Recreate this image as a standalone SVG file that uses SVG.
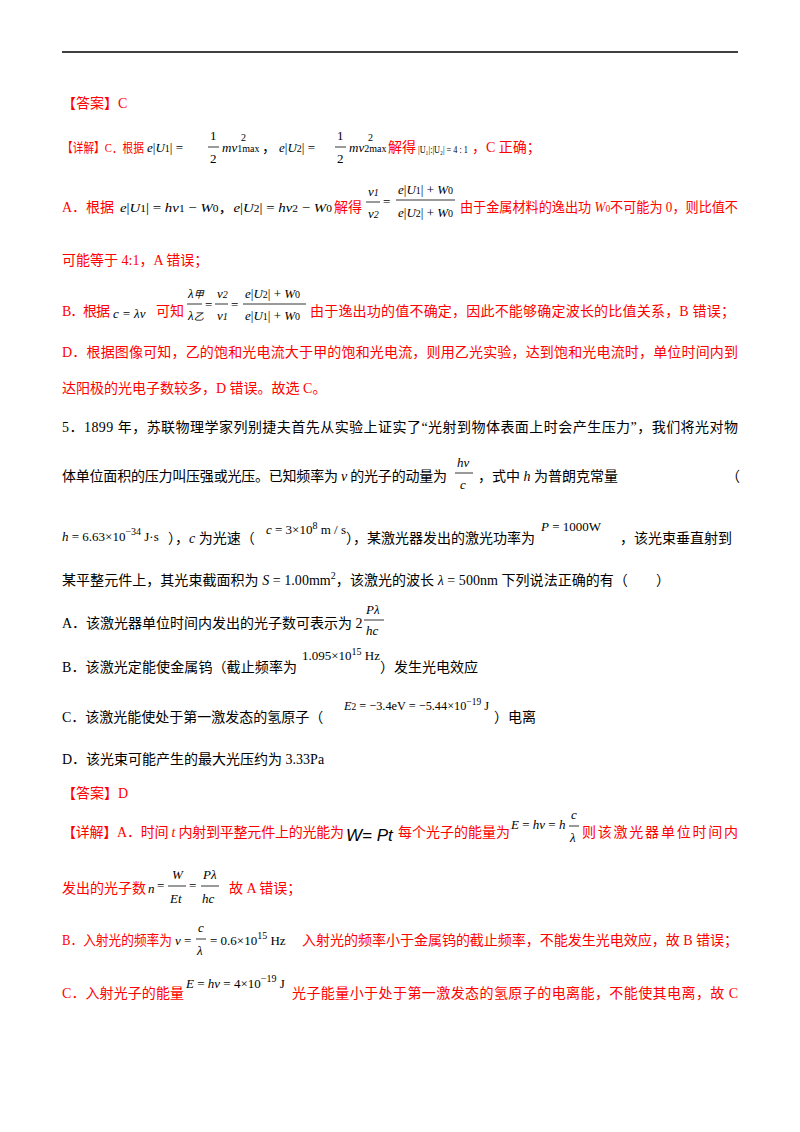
<svg xmlns="http://www.w3.org/2000/svg" width="800" height="1132" viewBox="0 0 800 1132">
<style>
text{font-family:"Liberation Serif","Noto Sans CJK SC",serif;font-size:14px;fill:#000}
.r{fill:#f00}
.m{font-style:italic}
.s{font-size:10px}
.f{font-size:13px}
line.fr{stroke:#000;stroke-width:0.8}
line.rule{stroke:#000;stroke-width:1.5}
</style>
<rect width="800" height="1132" fill="#fff"/>
<line class="rule" x1="62" y1="52" x2="738" y2="52"/>
<text class="r" x="62" y="108">【答案】C</text>
<text class="r" x="62" y="152" style="font-size:13px" textLength="82" lengthAdjust="spacingAndGlyphs">【详解】C．根据</text>
<text x="147" y="152" class="f"><tspan class="m">e</tspan>|<tspan class="m">U</tspan><tspan class="s">1</tspan>| =</text>
<text x="210" y="140" class="f">1</text><line class="fr" x1="208" y1="147" x2="219" y2="147"/><text x="210" y="163" class="f">2</text>
<text x="222" y="152" class="f"><tspan class="m">mv</tspan><tspan class="s">1max</tspan></text><text x="241" y="141" class="s">2</text>
<text x="262" y="152">，</text>
<text x="279" y="152" class="f"><tspan class="m">e</tspan>|<tspan class="m">U</tspan><tspan class="s">2</tspan>| =</text>
<text x="337" y="140" class="f">1</text><line class="fr" x1="335" y1="147" x2="346" y2="147"/><text x="337" y="163" class="f">2</text>
<text x="349" y="152" class="f"><tspan class="m">mv</tspan><tspan class="s">2max</tspan></text><text x="368" y="141" class="s">2</text>
<text class="r" x="388" y="152">解得</text>
<text x="418" y="153" class="s" textLength="50" lengthAdjust="spacingAndGlyphs">|U₁|:|U₂| = 4 : 1</text>
<text class="r" x="472" y="152">，C 正确；</text>

<text class="r" x="62" y="212">A．根据</text>
<text x="120" y="212" class="f" textLength="212" lengthAdjust="spacingAndGlyphs"><tspan class="m">e</tspan>|<tspan class="m">U</tspan><tspan class="s">1</tspan>| = <tspan class="m">hν</tspan><tspan class="s">1</tspan> − <tspan class="m">W</tspan><tspan class="s">0</tspan>，<tspan class="m">e</tspan>|<tspan class="m">U</tspan><tspan class="s">2</tspan>| = <tspan class="m">hν</tspan><tspan class="s">2</tspan> − <tspan class="m">W</tspan><tspan class="s">0</tspan></text>
<text class="r" x="334" y="212">解得</text>
<text x="368" y="196" class="f m">ν<tspan class="s">1</tspan></text><line class="fr" x1="366" y1="202" x2="380" y2="202"/><text x="368" y="218" class="f m">ν<tspan class="s">2</tspan></text>
<text x="383" y="206" class="f">=</text>
<text x="398" y="194" class="f"><tspan class="m">e</tspan>|<tspan class="m">U</tspan><tspan class="s">1</tspan>| + <tspan class="m">W</tspan><tspan class="s">0</tspan></text>
<line class="fr" x1="396" y1="200" x2="455" y2="200"/>
<text x="398" y="217" class="f"><tspan class="m">e</tspan>|<tspan class="m">U</tspan><tspan class="s">2</tspan>| + <tspan class="m">W</tspan><tspan class="s">0</tspan></text>
<text class="r" x="460" y="212" textLength="278" lengthAdjust="spacingAndGlyphs">由于金属材料的逸出功 <tspan class="m">W</tspan><tspan class="s">0</tspan>不可能为 0，则比值不</text>
<text class="r" x="62" y="265">可能等于 4:1，A 错误；</text>

<text class="r" x="62" y="316" textLength="48">B．根据</text>
<text x="113" y="318" class="f m">c = λν</text>
<text class="r" x="156" y="316">可知</text>
<text x="188" y="298" class="f m">λ<tspan class="s">甲</tspan></text><line class="fr" x1="187" y1="304" x2="202" y2="304"/><text x="188" y="320" class="f m">λ<tspan class="s">乙</tspan></text>
<text x="205" y="309" class="f">=</text>
<text x="217" y="298" class="f m">ν<tspan class="s">2</tspan></text><line class="fr" x1="215" y1="304" x2="228" y2="304"/><text x="217" y="320" class="f m">ν<tspan class="s">1</tspan></text>
<text x="231" y="309" class="f">=</text>
<text x="245" y="298" class="f"><tspan class="m">e</tspan>|<tspan class="m">U</tspan><tspan class="s">2</tspan>| + <tspan class="m">W</tspan><tspan class="s">0</tspan></text>
<line class="fr" x1="243" y1="304" x2="306" y2="304"/>
<text x="245" y="320" class="f"><tspan class="m">e</tspan>|<tspan class="m">U</tspan><tspan class="s">1</tspan>| + <tspan class="m">W</tspan><tspan class="s">0</tspan></text>
<text class="r" x="310" y="316" textLength="425">由于逸出功的值不确定，因此不能够确定波长的比值关系，B 错误；</text>

<text class="r" x="62" y="357" textLength="676">D．根据图像可知，乙的饱和光电流大于甲的饱和光电流，则用乙光实验，达到饱和光电流时，单位时间内到</text>
<text class="r" x="62" y="393">达阳极的光电子数较多，D 错误。故选 C。</text>

<text x="62" y="432" textLength="676">5．1899 年，苏联物理学家列别捷夫首先从实验上证实了“光射到物体表面上时会产生压力”，我们将光对物</text>
<text x="62" y="481" textLength="385">体单位面积的压力叫压强或光压。已知频率为 <tspan class="m">ν</tspan> 的光子的动量为</text>
<text x="457" y="467" class="f m">hν</text><line class="fr" x1="455" y1="473" x2="473" y2="473"/><text x="460" y="489" class="f m">c</text>
<text x="478" y="481">，式中 <tspan class="m">h</tspan> 为普朗克常量</text>
<text x="726" y="481">（</text>

<text x="62" y="541" class="f"><tspan class="m">h</tspan> = 6.63×10<tspan class="s" dy="-6">−34</tspan><tspan dy="6"> J·s</tspan></text>
<text x="168" y="543">），<tspan class="m">c</tspan> 为光速（</text>
<text x="266" y="534" class="f"><tspan class="m">c</tspan> = 3×10<tspan class="s" dy="-5">8</tspan><tspan dy="5"> m / s</tspan></text>
<text x="346" y="543">），某激光器发出的激光功率为</text>
<text x="541" y="531" class="f"><tspan class="m">P</tspan> = 1000W</text>
<text x="620" y="543">，该光束垂直射到</text>

<text x="62" y="585" textLength="608">某平整元件上，其光束截面积为 <tspan class="m">S</tspan> = 1.00mm<tspan class="s" dy="-6">2</tspan><tspan dy="6">，该激光的波长 <tspan class="m">λ</tspan> = 500nm 下列说法正确的有（　　）</tspan></text>

<text x="62" y="628">A．该激光器单位时间内发出的光子数可表示为 2</text>
<text x="366" y="614" class="f m">Pλ</text><line class="fr" x1="364" y1="620" x2="384" y2="620"/><text x="366" y="635" class="f m">hc</text>

<text x="62" y="672" textLength="235">B．该激光定能使金属钨（截止频率为</text>
<text x="302" y="660" class="f">1.095×10<tspan class="s" dy="-5">15</tspan><tspan dy="5"> Hz</tspan></text>
<text x="380" y="672">）发生光电效应</text>

<text x="62" y="722">C．该激光能使处于第一激发态的氢原子（</text>
<text x="344" y="710" class="f" textLength="145" lengthAdjust="spacingAndGlyphs"><tspan class="m">E</tspan><tspan class="s">2</tspan> = −3.4eV = −5.44×10<tspan class="s" dy="-5">−19</tspan><tspan dy="5"> J</tspan></text>
<text x="494" y="722">）电离</text>

<text x="62" y="764">D．该光束可能产生的最大光压约为 3.33Pa</text>

<text class="r" x="62" y="798">【答案】D</text>
<text class="r" x="62" y="837" textLength="282">【详解】A．时间 <tspan class="m">t</tspan> 内射到平整元件上的光能为</text>
<text x="346" y="841" style="font-family:'Liberation Sans',sans-serif;font-style:italic;font-size:17px">W=  Pt</text>
<text class="r" x="398" y="837">每个光子的能量为</text>
<text x="511" y="829" class="f"><tspan class="m">E</tspan> = <tspan class="m">hν</tspan> = <tspan class="m">h</tspan></text>
<text x="571" y="819" class="f m">c</text><line class="fr" x1="569" y1="826" x2="579" y2="826"/><text x="570" y="842" class="f m">λ</text>
<text class="r" x="582" y="837" textLength="156">则该激光器单位时间内</text>

<text class="r" x="62" y="893">发出的光子数</text>
<text x="148" y="893" class="f m">n</text><text x="157" y="890" class="f">=</text>
<text x="172" y="879" class="f m">W</text><line class="fr" x1="168" y1="886" x2="186" y2="886"/><text x="170" y="903" class="f m">Et</text>
<text x="189" y="890" class="f">=</text>
<text x="203" y="879" class="f m">Pλ</text><line class="fr" x1="201" y1="886" x2="219" y2="886"/><text x="202" y="903" class="f m">hc</text>
<text class="r" x="229" y="893">故 A 错误；</text>

<text class="r" x="62" y="945" textLength="110" lengthAdjust="spacingAndGlyphs">B．入射光的频率为</text>
<text x="175" y="945" class="f m">ν</text><text x="184" y="945" class="f">=</text>
<text x="198" y="932" class="f m">c</text><line class="fr" x1="196" y1="939" x2="206" y2="939"/><text x="197" y="955" class="f m">λ</text>
<text x="210" y="945" class="f">= 0.6×10<tspan class="s" dy="-6">15</tspan><tspan dy="6"> Hz</tspan></text>
<text class="r" x="302" y="945" textLength="436">入射光的频率小于金属钨的截止频率，不能发生光电效应，故 B 错误；</text>

<text class="r" x="62" y="998" textLength="122">C．入射光子的能量</text>
<text x="186" y="988" class="f"><tspan class="m">E</tspan> = <tspan class="m">hν</tspan> = 4×10<tspan class="s" dy="-6">−19</tspan><tspan dy="6"> J</tspan></text>
<text class="r" x="292" y="998" textLength="446">光子能量小于处于第一激发态的氢原子的电离能，不能使其电离，故 C</text>
</svg>
